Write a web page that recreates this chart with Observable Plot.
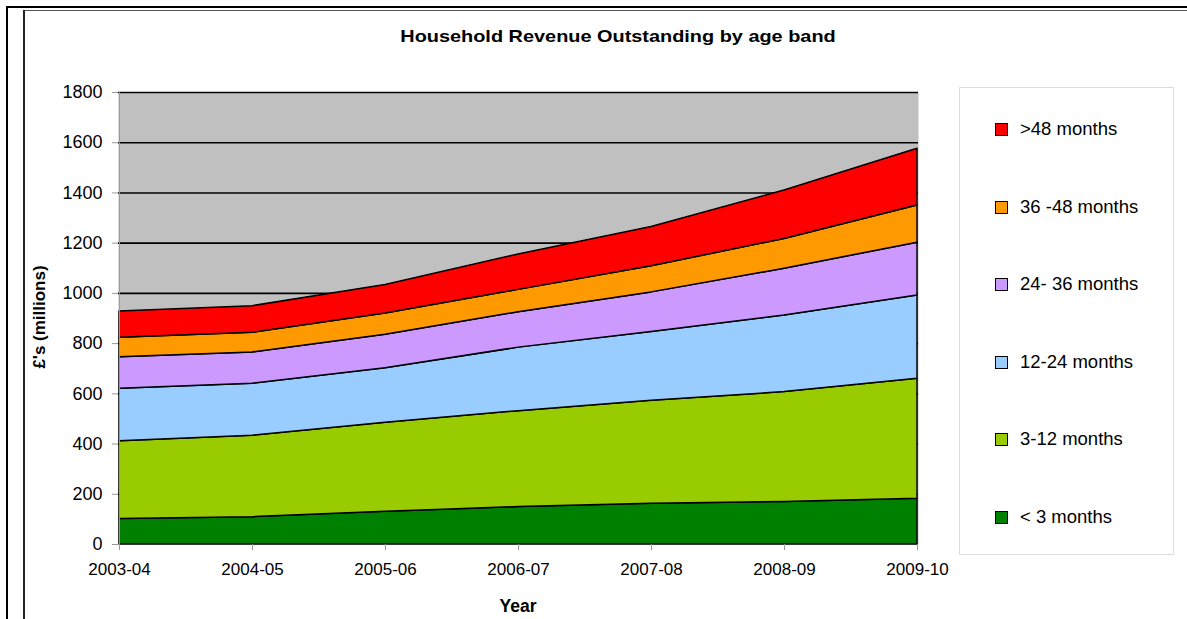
<!DOCTYPE html>
<html>
<head>
<meta charset="utf-8">
<script src="https://cdn.jsdelivr.net/npm/d3@7"></script>
<script src="https://cdn.jsdelivr.net/npm/@observablehq/plot@0.6"></script>
<style>
  html, body { margin: 0; padding: 0; background: #fff; }
  body { width: 1187px; height: 619px; position: relative; overflow: hidden; font-family: "Liberation Sans", Arial, sans-serif; }
  #chart { position: absolute; left: 0; top: 0; }
  .title { position: absolute; top: 27px; left: 0; width: 1236px; text-align: center; font-weight: bold; font-size: 17px; color: #000; transform: scaleX(1.17); transform-origin: 618px 0; }
  .ylab { position: absolute; left: 40px; top: 317px; transform: translate(-50%, -50%) rotate(-90deg); font-weight: bold; font-size: 17px; white-space: nowrap; }
  .xlab { position: absolute; top: 596px; left: 518px; transform: translateX(-50%); font-weight: bold; font-size: 17.5px; }
  .frame-outer-top { position: absolute; left: 7px; top: 6px; width: 1180px; height: 2px; background: #000; }
  .frame-outer-left { position: absolute; left: 6px; top: 6px; width: 2px; height: 613px; background: #000; }
  .frame-inner-top { position: absolute; left: 24px; top: 10px; width: 1163px; height: 1px; background: #555; }
  .frame-inner-left { position: absolute; left: 23px; top: 10px; width: 2px; height: 609px; background: #222; }
  .legend { position: absolute; left: 959px; top: 87px; width: 213px; height: 466px; border: 1.5px solid #ddd; }
  .legend .item { position: absolute; left: 35px; height: 20px; display: flex; align-items: center; font-size: 18.5px; white-space: nowrap; }
  .legend .sw { width: 11px; height: 11px; border: 1px solid #000; margin-right: 12px; }
  g[aria-label="y-axis tick"], g[aria-label="x-axis tick"] { stroke: #999; }
</style>
</head>
<body>
<div class="frame-outer-top"></div>
<div class="frame-outer-left"></div>
<div class="frame-inner-top"></div>
<div class="frame-inner-left"></div>
<div class="title">Household Revenue Outstanding by age band</div>
<div id="chart"></div>
<div class="ylab">£'s (millions)</div>
<div class="xlab">Year</div>
<div class="legend" id="legend"></div>
<script>
const years = ["2003-04", "2004-05", "2005-06", "2006-07", "2007-08", "2008-09", "2009-10"];
const bands = ["< 3 months", "3-12 months", "12-24 months", "24- 36 months", "36 -48 months", ">48 months"];
const colors = ["#008000", "#99CC00", "#99CCFF", "#CC99FF", "#FF9900", "#FF0000"];
const under3 = [102, 109, 130, 149, 162, 169, 182];
const m3to12 = [309, 324, 355, 382, 410, 438, 478];
const m12to24 = [209, 207, 217, 253, 274, 305, 332];
const m24to36 = [126, 125, 133, 141, 158, 186, 210];
const m36to48 = [77, 78, 85, 89, 104, 119, 148];
const over48 = [105, 106, 113, 141, 156, 193, 226];
const yTicks = [0, 200, 400, 600, 800, 1000, 1200, 1400, 1600, 1800];

const series = [under3, m3to12, m12to24, m24to36, m36to48, over48];
const rows = [];
bands.forEach((b, i) => years.forEach((y, j) => rows.push({year: y, band: b, value: series[i][j]})));

const chart = Plot.plot({
  width: 1187,
  height: 619,
  marginLeft: 118,
  marginRight: 269,
  marginTop: 92,
  marginBottom: 75,
  style: {fontFamily: "'Liberation Sans', Arial, sans-serif", fontSize: "17px", background: "transparent", color: "#000"},
  x: {type: "point", domain: years, padding: 0},
  y: {domain: [0, 1800]},
  color: {domain: bands, range: colors},
  marks: [
    Plot.frame({fill: "#C0C0C0", stroke: null}),
    Plot.ruleY(yTicks.filter(d => d > 0), {stroke: "#000", strokeWidth: 1.6}),
    Plot.areaY(rows, {x: "year", y: "value", z: "band", fill: "band", order: bands, stroke: "#000", strokeWidth: 1.5, strokeLinejoin: "round"}),
    Plot.ruleX([years[0]], {stroke: "#999", strokeWidth: 1}),
    Plot.axisY({ticks: yTicks, tickSize: 6, tickPadding: 10, fontSize: 18, label: null, tickFormat: d => String(d)}),
    Plot.axisX({tickSize: 6, tickPadding: 12, fontSize: 17, label: null})
  ]
});
document.getElementById("chart").appendChild(chart);

const legend = document.getElementById("legend");
const legendYs = [128, 206, 283, 361, 438, 516];
bands.slice().reverse().forEach((b, k) => {
  const it = document.createElement("div");
  it.className = "item";
  it.style.top = (legendYs[k] - 87 - 10) + "px";
  const sw = document.createElement("span");
  sw.className = "sw";
  sw.style.background = colors[bands.length - 1 - k];
  const tx = document.createElement("span");
  tx.textContent = b;
  it.appendChild(sw);
  it.appendChild(tx);
  legend.appendChild(it);
});
</script>
</body>
</html>
